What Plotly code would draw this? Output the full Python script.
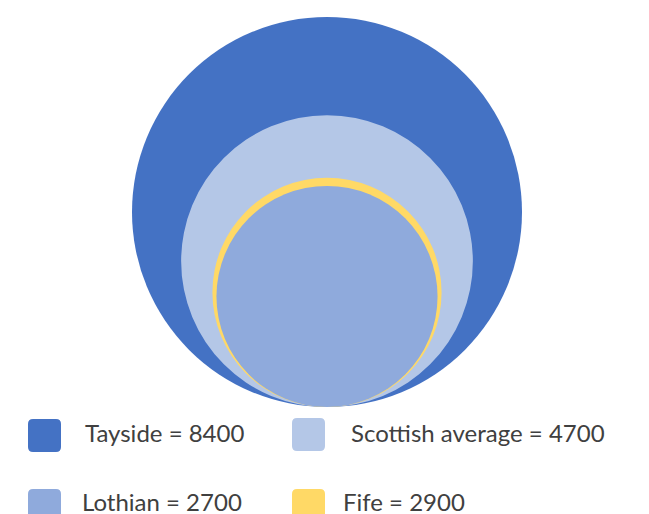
import plotly.graph_objects as go
import math

# ---- data ----
names = ["Tayside", "Scottish average", "Fife", "Lothian"]
values = [8400, 4700, 2900, 2700]
colors = ["#4472C4", "#B4C7E7", "#FFD966", "#8FAADC"]

legend_order = ["Tayside", "Scottish average", "Lothian", "Fife"]

# ---- layout constants ----
W, H = 649, 514
OFF = 8           # page body margin compensation
CX = 327          # common centre x of the circles
BASE = 407        # common bottom of the circles
RMAX = 195        # radius of largest circle

fig = go.Figure()
fig.add_trace(go.Scatter(x=[OFF, W], y=[OFF, H], mode="markers",
                         marker=dict(opacity=0), hoverinfo="skip", showlegend=False))

vmax = max(values)
shapes = []
for n, v, c in zip(names, values, colors):
    r = RMAX * math.sqrt(v / vmax)
    shapes.append(dict(type="circle", xref="x", yref="y",
                       x0=CX - r, x1=CX + r, y0=BASE - 2 * r, y1=BASE,
                       fillcolor=c, line=dict(width=0), layer="above"))

# legend (custom, 2 x 2 grid)
sq_pos = [(28, 419), (292, 418), (28, 489), (292, 489)]
txt_pos = [(83, 432), (349, 432), (80, 501), (341, 501)]
SQ = 33
rad = 5
annotations = []
for i, n in enumerate(legend_order):
    idx = names.index(n)
    x0, y0 = sq_pos[i]
    x1, y1 = x0 + SQ, y0 + SQ
    path = (f"M {x0+rad},{y0} L {x1-rad},{y0} Q {x1},{y0} {x1},{y0+rad} "
            f"L {x1},{y1-rad} Q {x1},{y1} {x1-rad},{y1} L {x0+rad},{y1} "
            f"Q {x0},{y1} {x0},{y1-rad} L {x0},{y0+rad} Q {x0},{y0} {x0+rad},{y0} Z")
    shapes.append(dict(type="path", xref="x", yref="y", path=path,
                       fillcolor=colors[idx], line=dict(width=0)))
    tx, ty = txt_pos[i]
    annotations.append(dict(x=tx, y=ty, xref="x", yref="y",
                            text=f"{n} = {values[idx]}", showarrow=False,
                            xanchor="left", yanchor="middle",
                            font=dict(family="Lato", size=24, color="#404040")))

fig.update_layout(
    width=W - OFF, height=H - OFF,
    margin=dict(l=0, r=0, t=0, b=0),
    paper_bgcolor="white", plot_bgcolor="white",
    xaxis=dict(range=[OFF, W], visible=False, fixedrange=True),
    yaxis=dict(range=[H, OFF], visible=False, fixedrange=True),
    shapes=shapes, annotations=annotations, showlegend=False,
)
fig.write_html("out.html", config={"displayModeBar": False})
